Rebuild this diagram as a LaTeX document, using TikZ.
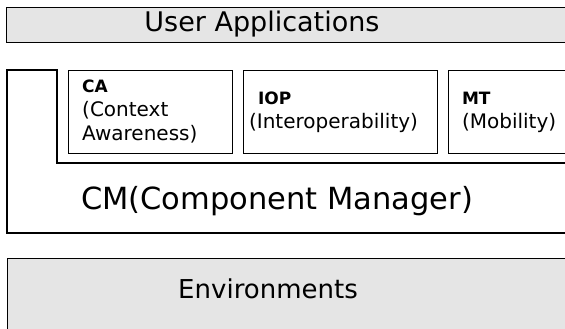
\documentclass[tikz,border=0pt]{standalone}
\usepackage{fontspec}
\setmainfont{DejaVu Sans}
\usetikzlibrary{positioning}

\tikzset{
  layer/.style={draw, line width=1.2pt, rectangle, inner sep=0pt, anchor=north west},
  shaded/.style={layer, fill=black!10},
  module/.style={draw, line width=0.9pt, rectangle, inner sep=0pt, minimum height=83pt},
  modtext/.style={align=left, inner sep=0pt, anchor=west, font=\fontsize{20}{24}\selectfont},
  bigtext/.style={inner sep=0pt, anchor=base}
}
\newcommand{\modtitle}[1]{{\fontsize{17}{20}\selectfont\bfseries #1}}

\begin{document}
\begin{tikzpicture}[x=1pt,y=-1pt]
  \useasboundingbox (0,0) rectangle (565,329);
  \clip (0,0) rectangle (565,329);

  % layers
  \node[shaded, minimum width=580pt, minimum height=35pt] (ua) at (6,7) {};
  \node[bigtext, font=\fontsize{27}{30}\selectfont] (uatext) at (262,32) {User Applications};

  \node[shaded, minimum width=580pt, minimum height=100pt] (env) at (7,258) {};
  \node[bigtext, font=\fontsize{26}{30}\selectfont] (envtext) at (268,298) {Environments};

  % component manager frame
  \draw[line width=1.2pt] (575,163) -| (57,70) -- (7,70) -- (7,233) -- (575,233);
  \node[bigtext, font=\fontsize{30.5}{34}\selectfont] (cmtext) at (277,209) {CM(Component Manager)};

  % modules
  \node[module, minimum width=164pt, anchor=north west] (ca) at (68,70) {};
  \node[module, minimum width=194pt, right=10pt of ca] (iop) {};
  \node[module, minimum width=150pt, right=10pt of iop] (mt) {};

  \node[modtext, right=14pt of ca.west] (catext) {\modtitle{CA}\\(Context\\Awareness)};
  \node[modtext, right=6pt of iop.west] (ioptext) {\hspace{9pt}\modtitle{IOP}\\(Interoperability)};
  \node[modtext, right=14pt of mt.west] (mttext) {\modtitle{MT}\\(Mobility)};
\end{tikzpicture}
\end{document}
